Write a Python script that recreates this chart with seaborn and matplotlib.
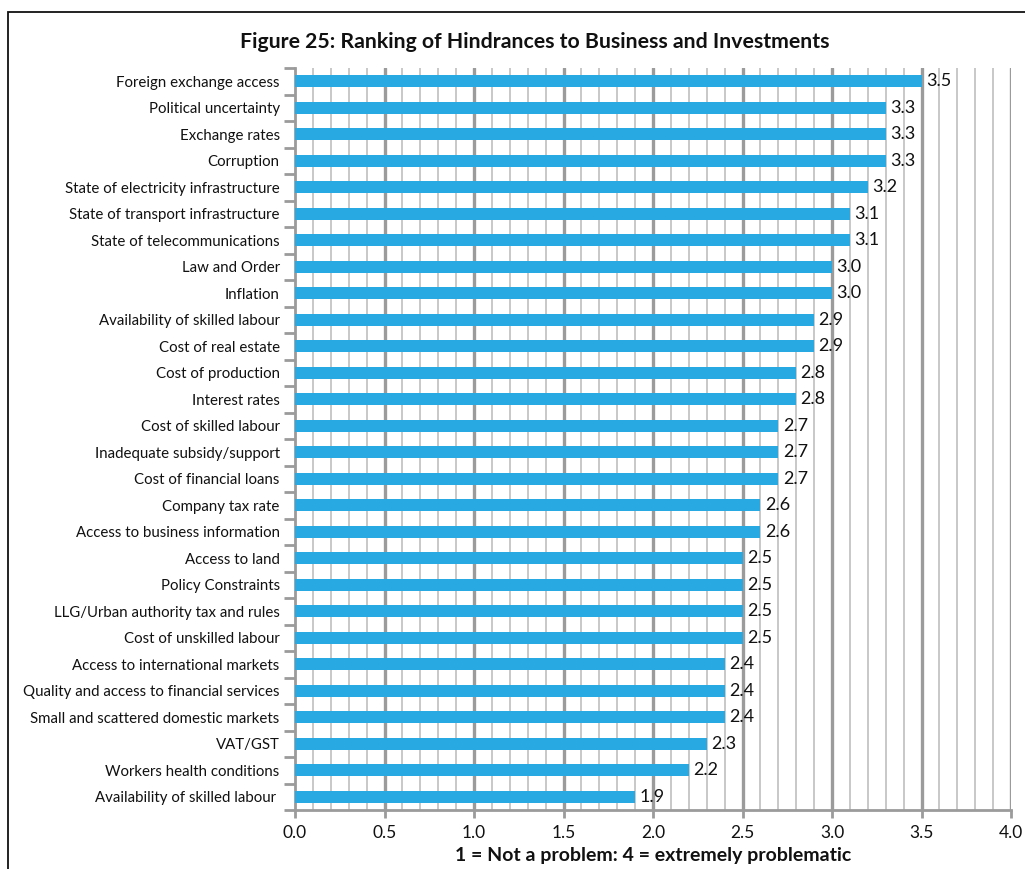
import numpy as np
import pandas as pd
import matplotlib
matplotlib.use("Agg")
import matplotlib.pyplot as plt
from matplotlib.patches import Rectangle
from matplotlib.ticker import FixedLocator
import seaborn as sns

categories = [
    "Foreign exchange access",
    "Political uncertainty",
    "Exchange rates",
    "Corruption",
    "State of electricity infrastructure",
    "State of transport infrastructure",
    "State of telecommunications",
    "Law and Order",
    "Inflation",
    "Availability of skilled labour",
    "Cost of real estate",
    "Cost of production",
    "Interest rates",
    "Cost of skilled labour",
    "Inadequate subsidy/support",
    "Cost of financial loans",
    "Company tax rate",
    "Access to business information",
    "Access to land",
    "Policy Constraints",
    "LLG/Urban authority tax and rules",
    "Cost of unskilled labour",
    "Access to international markets",
    "Quality and access to financial services",
    "Small and scattered domestic markets",
    "VAT/GST",
    "Workers health conditions",
    "Availability of skilled labour ",
]
scores = [3.5, 3.3, 3.3, 3.3, 3.2, 3.1, 3.1, 3.0, 3.0, 2.9, 2.9, 2.8, 2.8, 2.7,
          2.7, 2.7, 2.6, 2.6, 2.5, 2.5, 2.5, 2.5, 2.4, 2.4, 2.4, 2.3, 2.2, 1.9]
x_ticks = [0.0, 0.5, 1.0, 1.5, 2.0, 2.5, 3.0, 3.5, 4.0]
minor_grid = [round(0.1 * k, 1) for k in range(1, 41)]

title = "Figure 25: Ranking of Hindrances to Business and Investments"
x_label = "1 = Not a problem: 4 = extremely problematic"

df = pd.DataFrame({"category": categories, "score": scores})

sns.set_theme(style="white")
plt.rcParams["font.family"] = ["Lato", "DejaVu Sans"]

fig = plt.figure(figsize=(10.25, 8.69), dpi=100)
ax = fig.add_axes([295 / 1025, 1 - 810 / 869, (1011 - 295) / 1025, (810 - 68) / 869])

bar_color = "#29a9e1"
sns.barplot(data=df, x="score", y="category", order=categories, color=bar_color,
            width=0.45, saturation=1, linewidth=0, ax=ax, zorder=3)

ax.set_xlim(0, 4.0)
ax.set_ylim(len(categories) - 0.5, -0.5)

# vertical grid: light lines every 0.1, darker lines every 0.5
ax.grid(False)
for g in minor_grid:
    major = any(abs(g - t) < 1e-9 for t in x_ticks)
    ax.axvline(g, color="#9b9b9b" if major else "#c8c8c8",
               lw=2.4 if major else 1.4, ls="-", zorder=1)

ax.xaxis.set_major_locator(FixedLocator(x_ticks))
ax.set_xticklabels([f"{v:.1f}" for v in x_ticks], fontsize=12.5, color="#111111")
ax.tick_params(axis="x", which="major", length=6, width=2, color="#9b9b9b",
               direction="out", bottom=True, pad=5)

# category separators on the y axis
ax.yaxis.set_minor_locator(FixedLocator(np.arange(-0.5, len(categories), 1.0)))
ax.tick_params(axis="y", which="minor", length=8, width=2, color="#9b9b9b",
               direction="out", left=True)
ax.tick_params(axis="y", which="major", length=0, pad=11, labelsize=10.8,
               labelcolor="#111111")

for side in ["top", "right"]:
    ax.spines[side].set_visible(False)
for side in ["left", "bottom"]:
    ax.spines[side].set_color("#9b9b9b")
    ax.spines[side].set_linewidth(2)

ax.set_ylabel("")
ax.set_xlabel(x_label, fontsize=14, fontweight="bold", color="#111111", labelpad=4)

for i, v in enumerate(scores):
    ax.text(v + 0.025, i, f"{v:.1f}", va="center", ha="left", fontsize=13,
            color="#111111", zorder=4)

fig.text(0.522, 1 - 42 / 869, title, ha="center", va="center", fontsize=15.3,
         fontweight="bold", color="#111111")

# outer frame
fig.patches.append(Rectangle((8 / 1025, -0.05), 1.1, 1 - 12 / 869 + 0.05,
                             transform=fig.transFigure, fill=False,
                             edgecolor="#111111", lw=1.3))

fig.savefig("out.png", dpi=100)
